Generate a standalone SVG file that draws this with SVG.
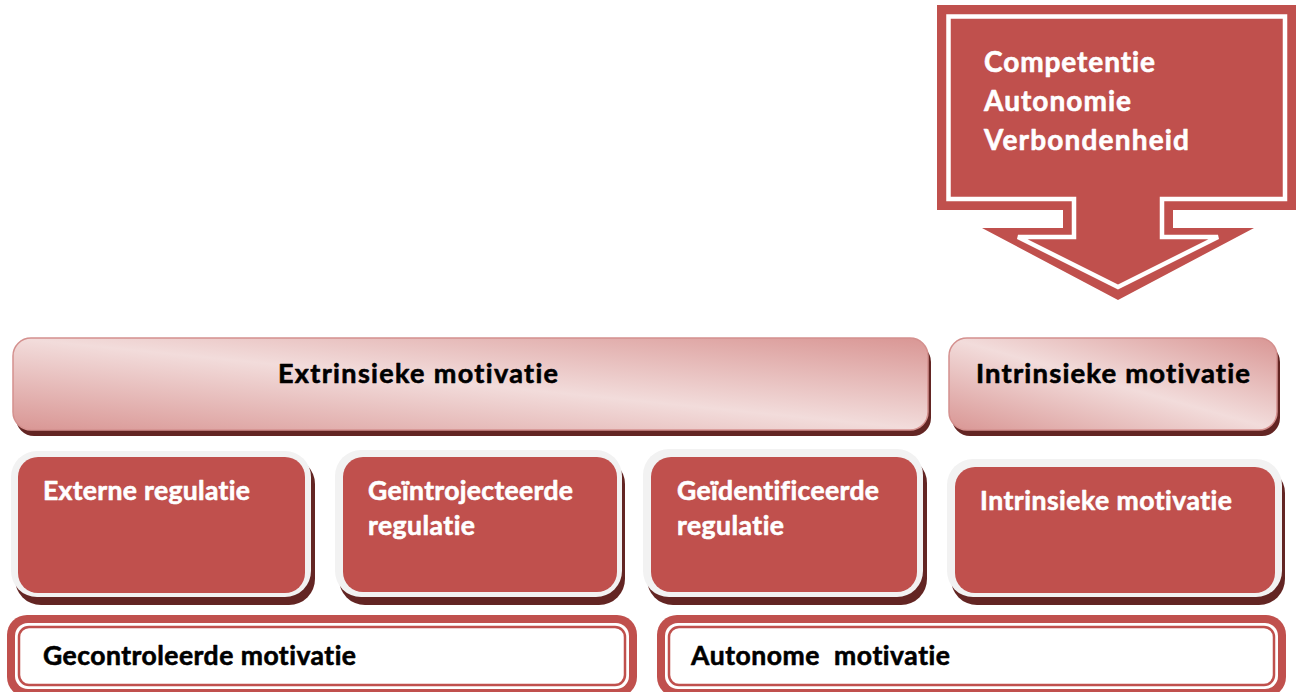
<svg xmlns="http://www.w3.org/2000/svg" width="1301" height="692" viewBox="0 0 1301 692">
  <defs>
    <!-- glossy pink fill for the two header bars -->
    <linearGradient id="pinkGloss" x1="0" y1="1" x2="1" y2="0">
      <stop offset="0" stop-color="#d99694"/>
      <stop offset="0.5" stop-color="#f2dcdb"/>
      <stop offset="1" stop-color="#d99694"/>
    </linearGradient>
  </defs>
  <style>
    .red{fill:#c0504d}
    .shadow{fill:#632523}
    .frame{fill:#f2f2f2}
    .bar{fill:url(#pinkGloss);stroke:#d4908e;stroke-width:1.5}
    .outline{fill:#c0504d}
    .inner{fill:#fff}
    .thin{fill:none;stroke:#c0504d;stroke-width:2.5}
    text{font-family:Lato,"Open Sans","Liberation Sans",sans-serif;font-weight:bold;font-variant-ligatures:none;stroke-width:0.6;stroke-linejoin:round}
    .w{fill:#fff;stroke:#fff}
    .k{fill:#000;stroke:#000}
  </style>

  <rect width="1301" height="692" fill="#fff"/>

  <!-- block arrow with the three basic needs -->
  <g id="needs-arrow">
    <polygon class="red" points="937,5 1296,5 1296,210 1173,210 1173,228 1254,228 1118,300 982,228 1063,228 1063,210 937,210"/>
    <polygon fill="none" stroke="#fff" stroke-width="4.5" stroke-linejoin="miter" points="948.5,16.5 1285,16.5 1285,199 1162,199 1162,237 1218,237 1118,287 1018,237 1074,237 1074,199 948.5,199"/>
    <text class="w" x="984" y="72" font-size="28" textLength="171">Competentie</text>
    <text class="w" x="984" y="111" font-size="28" textLength="147">Autonomie</text>
    <text class="w" x="984" y="150" font-size="28" textLength="205">Verbondenheid</text>
  </g>

  <!-- header bars -->
  <g id="extrinsic-header">
    <rect class="shadow" x="16" y="344" width="915" height="92" rx="18"/>
    <rect class="bar" x="13" y="338" width="915" height="92" rx="18"/>
    <text class="k" x="278" y="383" font-size="27" textLength="280">Extrinsieke motivatie</text>
  </g>
  <g id="intrinsic-header">
    <rect class="shadow" x="952" y="344" width="328" height="92" rx="18"/>
    <rect class="bar" x="949" y="338" width="328" height="92" rx="18"/>
    <text class="k" x="976" y="383" font-size="27.5" textLength="274">Intrinsieke motivatie</text>
  </g>

  <!-- regulation styles -->
  <g id="external-regulation">
    <rect class="shadow" x="15" y="458" width="300" height="147" rx="26"/>
    <rect class="frame" x="11" y="451" width="300" height="146" rx="26"/>
    <rect class="red" x="18" y="457" width="287" height="136" rx="20"/>
    <text class="w" x="43" y="500" font-size="26.5" textLength="207">Externe regulatie</text>
  </g>
  <g id="introjected-regulation">
    <rect class="shadow" x="339" y="458" width="286" height="147" rx="26"/>
    <rect class="frame" x="335" y="450" width="287" height="147" rx="26"/>
    <rect class="red" x="343" y="457" width="274" height="135" rx="20"/>
    <text class="w" x="368" y="500" font-size="26.5" textLength="205">Geïntrojecteerde</text>
    <text class="w" x="368" y="535" font-size="26.5" textLength="107">regulatie</text>
  </g>
  <g id="identified-regulation">
    <rect class="shadow" x="647" y="457" width="280" height="148" rx="26"/>
    <rect class="frame" x="643" y="449" width="280" height="148" rx="26"/>
    <rect class="red" x="651" y="457" width="266" height="135" rx="20"/>
    <text class="w" x="677" y="500" font-size="26.5" textLength="202">Geïdentificeerde</text>
    <text class="w" x="677" y="535" font-size="26.5" textLength="107">regulatie</text>
  </g>
  <g id="intrinsic-regulation">
    <rect class="shadow" x="951" y="467" width="334" height="138" rx="26"/>
    <rect class="frame" x="947" y="459" width="335" height="138" rx="26"/>
    <rect class="red" x="955" y="467" width="320" height="126" rx="20"/>
    <text class="w" x="980" y="510" font-size="26.5" textLength="252">Intrinsieke motivatie</text>
  </g>

  <!-- motivation types -->
  <g id="controlled-motivation">
    <rect class="outline" x="7" y="615" width="630" height="82" rx="20"/>
    <rect class="inner" x="15" y="623" width="614" height="66" rx="13"/>
    <rect class="thin" x="19" y="627" width="606" height="58" rx="10"/>
    <text class="k" x="43" y="665" font-size="26.5" textLength="313">Gecontroleerde motivatie</text>
  </g>
  <g id="autonomous-motivation">
    <rect class="outline" x="657" y="615" width="629" height="82" rx="20"/>
    <rect class="inner" x="665" y="623" width="613" height="66" rx="13"/>
    <rect class="thin" x="669" y="627" width="605" height="58" rx="10"/>
    <text class="k" x="691" y="665" font-size="26.5" textLength="259" xml:space="preserve">Autonome  motivatie</text>
  </g>
</svg>
